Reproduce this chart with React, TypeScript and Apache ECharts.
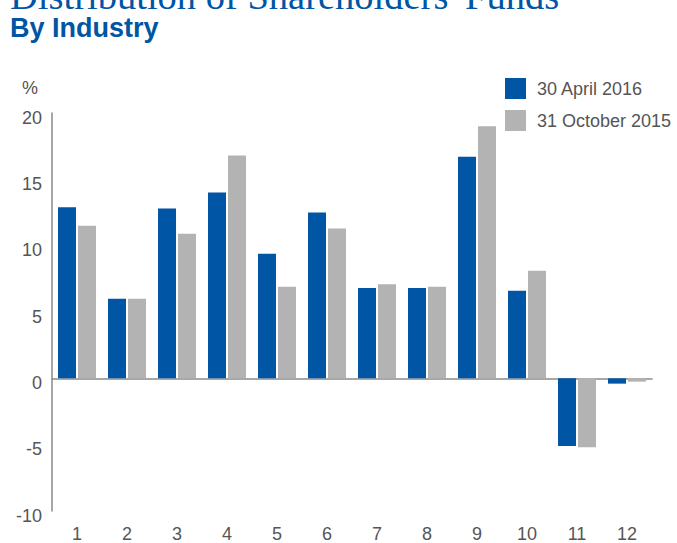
import React, { useEffect, useRef } from "react";
import * as echarts from "echarts";

const categories = ["1", "2", "3", "4", "5", "6", "7", "8", "9", "10", "11", "12"];
const april2016 = [12.9, 6.0, 12.8, 14.0, 9.4, 12.5, 6.8, 6.8, 16.7, 6.6, -5.1, -0.4];
const october2015 = [11.5, 6.0, 10.9, 16.8, 6.9, 11.3, 7.1, 6.9, 19.0, 8.1, -5.2, -0.25];
const seriesNames = ["30 April 2016", "31 October 2015"];

const BLUE = "#0055a4";
const GRAY = "#b3b3b3";
const TEXT = "#555555";
const AXIS = "#8a8a8a";
const SANS = "'Liberation Sans', Arial, Helvetica, sans-serif";

export default function App() {
  const ref = useRef<HTMLDivElement>(null);
  useEffect(() => {
    document.body.style.margin = "0";
    const chart = echarts.init(ref.current!, null, { renderer: "svg" });
    chart.setOption({
      animation: false,
      backgroundColor: "#ffffff",
      grid: { left: 52, right: 25, top: 113, bottom: 31, containLabel: false },
      legend: {
        orient: "vertical",
        left: 505,
        top: 78,
        padding: 0,
        itemWidth: 21,
        itemHeight: 21,
        itemGap: 11,
        icon: "rect",
        data: seriesNames,
        textStyle: { color: TEXT, fontSize: 18, fontFamily: SANS, padding: [0, 0, 0, 6] },
      },
      graphic: [
        {
          type: "text",
          x: 10,
          y: -4,
          style: {
            text: "Distribution of Shareholders' Funds",
            fill: BLUE,
            fontSize: 38.5,
            fontFamily: "'Liberation Serif', 'Times New Roman', serif",
            verticalAlign: "middle",
          },
        },
        {
          type: "text",
          x: 10,
          y: 28,
          style: {
            text: "By Industry",
            fill: BLUE,
            fontSize: 27,
            fontWeight: "bold",
            fontFamily: SANS,
            verticalAlign: "middle",
          },
        },
        {
          type: "text",
          x: 30,
          y: 88,
          style: {
            text: "%",
            fill: TEXT,
            fontSize: 18,
            fontFamily: SANS,
            align: "center",
            verticalAlign: "middle",
          },
        },
      ],
      xAxis: [
        {
          type: "category",
          data: categories,
          position: "top",
          axisLine: { show: true, onZero: true, lineStyle: { color: AXIS, width: 1.5 } },
          axisTick: { show: false },
          axisLabel: { show: false },
          splitLine: { show: false },
        },
        {
          type: "category",
          data: categories,
          position: "bottom",
          axisLine: { show: false, onZero: false },
          axisTick: { show: false },
          axisLabel: { color: TEXT, fontSize: 18, fontFamily: SANS, margin: 14 },
          splitLine: { show: false },
        },
      ],
      yAxis: {
        type: "value",
        min: -10,
        max: 20,
        interval: 5,
        axisLine: { show: true, lineStyle: { color: AXIS, width: 1.5 } },
        axisTick: { show: false },
        splitLine: { show: false },
        axisLabel: {
          color: TEXT,
          fontSize: 18,
          fontFamily: SANS,
          margin: 10,
          verticalAlign: "top",
          lineHeight: 9,
        },
      },
      series: [
        {
          name: seriesNames[0],
          type: "bar",
          xAxisIndex: 1,
          data: april2016,
          barWidth: 18,
          barGap: "11%",
          itemStyle: { color: BLUE },
        },
        {
          name: seriesNames[1],
          type: "bar",
          xAxisIndex: 1,
          data: october2015,
          barWidth: 18,
          barGap: "11%",
          itemStyle: { color: GRAY },
        },
      ],
    });
    return () => chart.dispose();
  }, []);
  return (
    <div
      ref={ref}
      style={{ position: "fixed", left: 0, top: 0, width: 677, height: 543 }}
    />
  );
}
